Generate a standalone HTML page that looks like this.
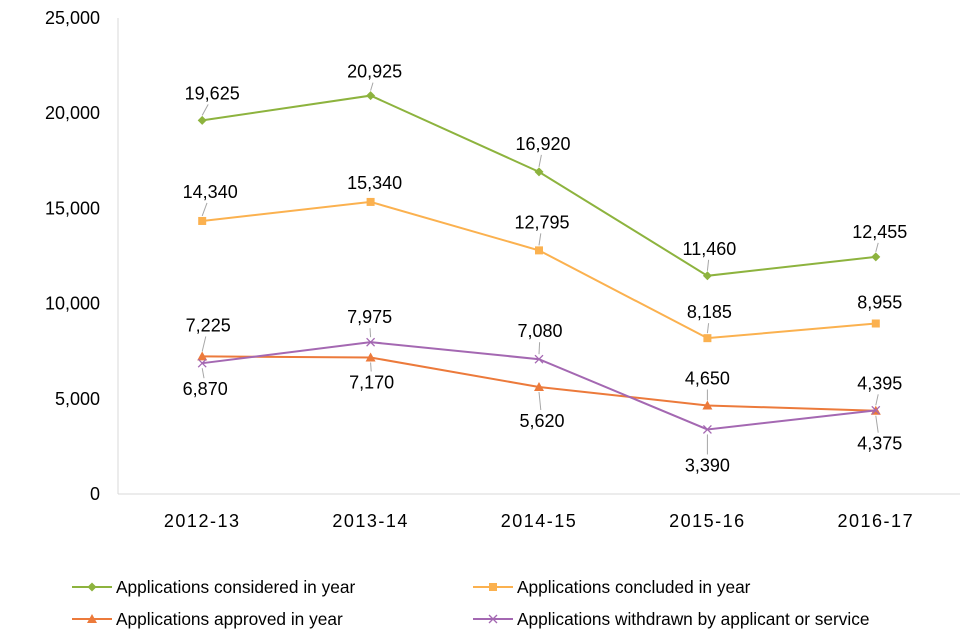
<!DOCTYPE html>
<html><head><meta charset="utf-8"><style>
body{margin:0;background:#fff;}
svg{display:block;font-family:"Liberation Sans",Arial,sans-serif;}
</style></head><body>
<svg id="chart" width="960" height="640"></svg>
<script>
const categories=["2012-13","2013-14","2014-15","2015-16","2016-17"];
const considered=[19625,20925,16920,11460,12455];
const concluded=[14340,15340,12795,8185,8955];
const approved=[7225,7170,5620,4650,4375];
const withdrawn=[6870,7975,7080,3390,4395];
const yTicks=[0,5000,10000,15000,20000,25000];
// label offsets (style): dx, dy relative to point
const offConsidered=[[10,-27],[4,-24],[4,-28],[2,-27],[4,-25]];
const offConcluded=[[8,-29],[4,-19],[3,-28],[2,-26],[4,-21]];
const offApproved=[[6,-31],[1,25],[3,34],[0,-27],[4,33]];
const offWithdrawn=[[3,26],[-1,-25],[1,-28],[0,36],[4,-27]];

const NS="http://www.w3.org/2000/svg";
const svg=document.getElementById('chart');
const x0=118,x1=960,yTop=18,yBot=494,yMax=25000;
const xs=i=>x0+(i+0.5)*(x1-x0)/categories.length;
const ys=v=>yBot-(v/yMax)*(yBot-yTop);
function mk(t,a,p){const e=document.createElementNS(NS,t);for(const k in a)e.setAttribute(k,a[k]);(p||svg).appendChild(e);return e;}

const axis=mk('line',{x1:x0,y1:yTop,x2:x0,y2:yBot,stroke:'#d9d9d9','stroke-width':1});


const xaxis=mk('line',{x1:x0,y1:yBot,x2:x1,y2:yBot,stroke:'#d9d9d9','stroke-width':1});


yTicks.forEach(v=>{
  const t=mk('text',{x:100,y:ys(v)+6,'text-anchor':'end','font-size':18,fill:'#000'});
  t.textContent=v.toLocaleString('en-US');
  
  
});
categories.forEach((c,i)=>{
  const t=mk('text',{x:xs(i),y:527,'text-anchor':'middle','font-size':18,'letter-spacing':1.5,fill:'#000'});
  t.textContent=c;
  
  
});

function marker(type,cx,cy,col,g){
  if(type==='diamond')return mk('polygon',{points:`${cx},${cy-4.5} ${cx+4.5},${cy} ${cx},${cy+4.5} ${cx-4.5},${cy}`,fill:col},g);
  if(type==='square')return mk('rect',{x:cx-4,y:cy-4,width:8,height:8,fill:col},g);
  if(type==='triangle')return mk('polygon',{points:`${cx},${cy-5} ${cx+5},${cy+4} ${cx-5},${cy+4}`,fill:col},g);
  const gg=mk('g',{stroke:col,'stroke-width':1.3},g);
  mk('line',{x1:cx-4,y1:cy-4,x2:cx+4,y2:cy+4},gg);mk('line',{x1:cx-4,y1:cy+4,x2:cx+4,y2:cy-4},gg);return gg;
}

const series=[
 {name:'considered',data:considered,off:offConsidered,col:'#8db33e',m:'diamond'},
 {name:'concluded',data:concluded,off:offConcluded,col:'#fbb14f',m:'square'},
 {name:'approved',data:approved,off:offApproved,col:'#ec7a3b',m:'triangle'},
 {name:'withdrawn',data:withdrawn,off:offWithdrawn,col:'#a468b2',m:'x'}
];
series.forEach(s=>{
  const g=mk('g',{});
  
  
  const pts=s.data.map((v,i)=>xs(i)+','+ys(v)).join(' ');
  const pl=mk('polyline',{points:pts,fill:'none',stroke:s.col,'stroke-width':2},g);
  
  
  s.data.forEach((v,i)=>{
    const cx=xs(i),cy=ys(v);
    const m=marker(s.m,cx,cy,s.col,g);
    
    
    const lx=cx+s.off[i][0],ly=cy+s.off[i][1];
    const dist=Math.abs(s.off[i][1]);
    if(dist>22){
      const dir=Math.sign(s.off[i][1]);
      const ll=mk('line',{x1:cx,y1:cy+dir*5,x2:cx+(lx-cx)*0.6,y2:ly-dir*11,stroke:'#a6a6a6','stroke-width':1},g);
      
      
    }
    const t=mk('text',{x:lx,y:ly+6,'text-anchor':'middle','font-size':18,fill:'#000'},g);
    t.textContent=v.toLocaleString('en-US');
    
    
  });
});

const legendItems=[
 ['Applications considered in year','#8db33e','diamond',72,587],
 ['Applications concluded in year','#fbb14f','square',473,587],
 ['Applications approved in year','#ec7a3b','triangle',72,619],
 ['Applications withdrawn by applicant or service','#a468b2','x',473,619]
];
legendItems.forEach(l=>{
  const g=mk('g',{});
  
  
  mk('line',{x1:l[3],y1:l[4],x2:l[3]+40,y2:l[4],stroke:l[1],'stroke-width':2},g);
  marker(l[2],l[3]+20,l[4],l[1],g);
  const t=mk('text',{x:l[3]+44,y:l[4]+6,'font-size':17.3,fill:'#000'},g);
  t.textContent=l[0];
});
</script>
</body></html>
